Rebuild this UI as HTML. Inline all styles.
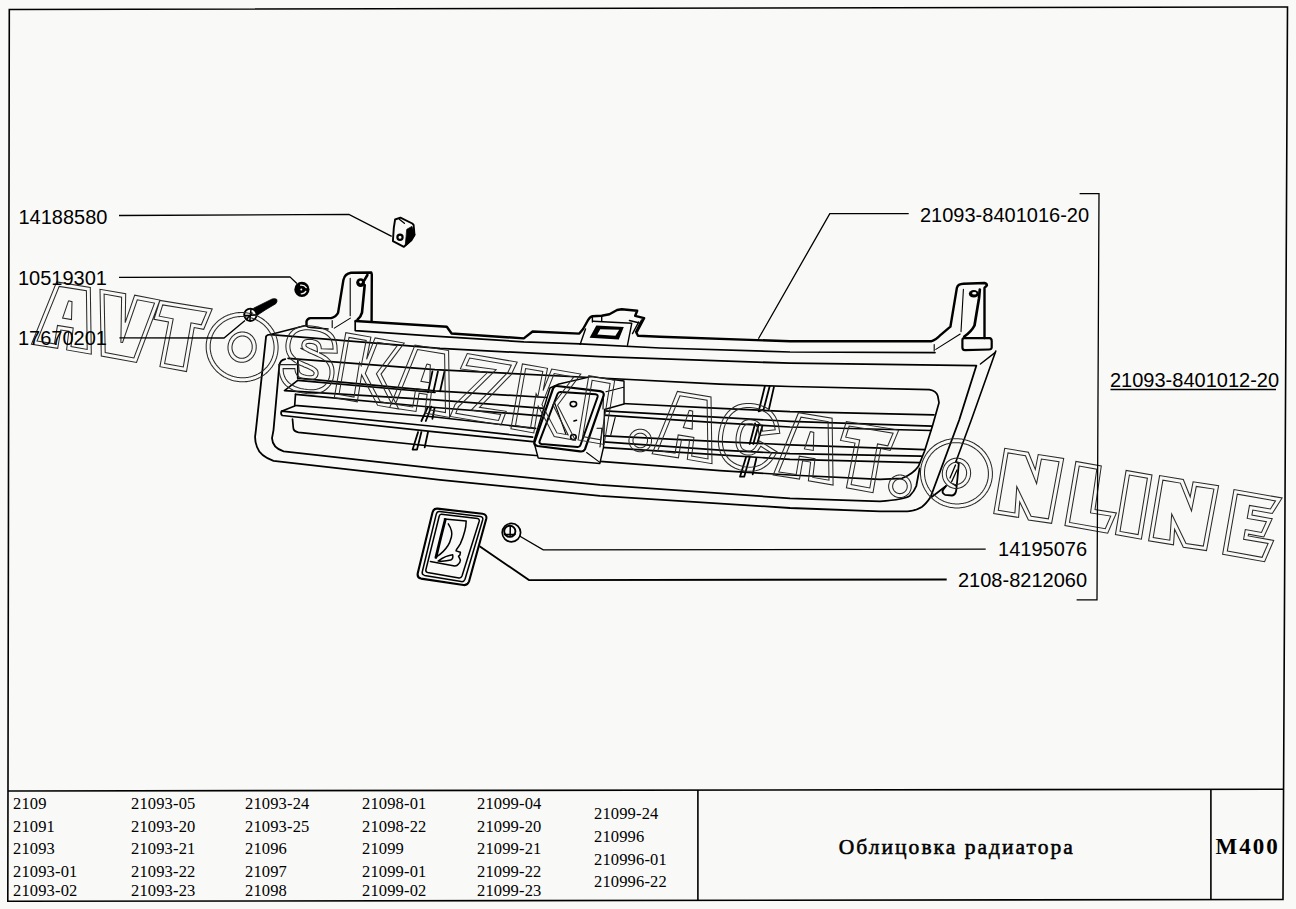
<!DOCTYPE html>
<html><head><meta charset="utf-8">
<style>
html,body{margin:0;padding:0;background:#f9f9f7;}
body{width:1296px;height:909px;overflow:hidden;position:relative;}
svg{position:absolute;left:0;top:0;}
.lab{font-family:"Liberation Sans",sans-serif;font-size:20px;fill:#000;}
.tb{font-family:"Liberation Serif",serif;font-size:16.5px;letter-spacing:0.15px;fill:#000;}
</style></head>
<body>
<svg width="1296" height="909" viewBox="0 0 1296 909">
<!-- frame -->
<g fill="none" stroke="#000" stroke-width="1.6">
<polygon points="9.3,9.5 1287.5,7 1283,899.5 7.8,901.3"/>
<line x1="8" y1="791" x2="1283.5" y2="789.3"/>
<line x1="697.9" y1="790" x2="697.9" y2="900"/>
<line x1="1210.9" y1="789.3" x2="1210.9" y2="899.3"/>
</g>
<!-- table text -->
<g class="tb">
<text x="13" y="809">2109</text>
<text x="13" y="831.5">21091</text>
<text x="13" y="854">21093</text>
<text x="13" y="877">21093-01</text>
<text x="13" y="896">21093-02</text>
<text x="131" y="809">21093-05</text>
<text x="131" y="831.5">21093-20</text>
<text x="131" y="854">21093-21</text>
<text x="131" y="877">21093-22</text>
<text x="131" y="896">21093-23</text>
<text x="245" y="809">21093-24</text>
<text x="245" y="831.5">21093-25</text>
<text x="245" y="854">21096</text>
<text x="245" y="877">21097</text>
<text x="245" y="896">21098</text>
<text x="362" y="809">21098-01</text>
<text x="362" y="831.5">21098-22</text>
<text x="362" y="854">21099</text>
<text x="362" y="877">21099-01</text>
<text x="362" y="896">21099-02</text>
<text x="477" y="809">21099-04</text>
<text x="477" y="831.5">21099-20</text>
<text x="477" y="854">21099-21</text>
<text x="477" y="877">21099-22</text>
<text x="477" y="896">21099-23</text>
<text x="594" y="819.3">21099-24</text>
<text x="594" y="842.1">210996</text>
<text x="594" y="864.7">210996-01</text>
<text x="594" y="886.9">210996-22</text>
</g>
<text x="838.8" y="854.3" style="font-family:'Liberation Serif',serif;font-size:21.5px;letter-spacing:2.03px;stroke:#000;stroke-width:0.55px">Облицовка радиатора</text>
<text x="1215.5" y="854" style="font-family:'Liberation Serif',serif;font-size:23px;font-weight:bold;letter-spacing:2.0px">M400</text>


<!-- GRILLE -->
<g id="grille" fill="none" stroke="#000" stroke-width="1.7" stroke-linejoin="round" stroke-linecap="round">
<!-- dividers -->
<g stroke-width="1.8">
<path d="M432.4,371.5 L428,392.4 M437.9,371.5 L433.5,391.3 M444.5,371.5 L440.1,391.3"/>
<path d="M428,406.7 L421.4,421 M431.3,406.7 L425.8,421 M434.6,407.8 L432.4,418.8"/>
<path d="M418.1,432 L412.6,449.6 M421.4,432 L417,449.6 M428,432 L424.7,447.4 M412.6,449.6 L417,449.6"/>
<path d="M764.8,386.5 L758.7,411.3 M769.6,386.5 L763.6,409.5 M773.9,387.1 L769,408.9 M758.7,411.3 L763.6,409.5"/>
<path d="M755.1,423.4 L749.7,444 M758.7,424.6 L753.3,444 M762.4,425.8 L757.5,442.8"/>
<path d="M746,457.3 L740,476.7 M749.7,457.3 L744.2,476.7 M756.3,458.5 L752.7,474.3 M740,476.7 L744.2,476.7"/>
</g>
<!-- slats -->
<path d="M288.1,358.4 L435,369.6 L600,378 L720,384.1 L790,386.5 L929.4,389.7 Q936.5,391 937.8,396 L939,402.7 L932.6,425.4 L924.5,451.3 L918.5,466.2 Q913,474 902,478.3 L880,479.4 L790,475 L720,470.6 L600,461.4 L535.6,455.5 L435,446.5 L298.4,432.3 Q293.5,431.5 293.3,427.9 L292.5,419.1"/>
<path d="M297.9,360.6 L297.7,378.2 L435,390.8 L547,397.5 M622,403.5 L720,408.3 L790,411.6 L934,414.8"/>
<path d="M297.7,380.4 L284.5,390.6 L435,399.8 L544,408.4 M604,410.8 L720,417.4 L790,421.3 L932,426.2"/>
<path d="M297.7,380.4 L435,392.5"/>
<path d="M295.5,394.3 L435,407.5 L541,415.8 M604,415.2 L720,422.8 L790,427 L931,430.5"/>
<path d="M295.5,394.3 L294.7,405.3 L435,417 L535.6,428.4"/>
<path d="M294.7,406 L281.5,411.2 Q280.3,414 282.3,415.5 L435,431.8 L532.6,441.6 M281.5,411.2 L435,426.5 L532.6,437.2 M600,435.7 L720,441.6 L790,444.8 L924.5,449.7 M600,441.6 L720,450.1 L790,453.7 L921.3,456.2"/>
<path d="M601.5,447.4 L720,454.9 L790,459.4 L919.6,462.6"/>
<!-- badge mount -->
<path fill="#f9f9f7" stroke-width="1.4" d="M550,388 L558,384.3 L591,376.6 L624,381 L624,404 L604.5,409.5 L603.5,447.4 L599.8,463.5 L538.2,458 L533.8,441.5 Z"/>
<path stroke-width="1.1" d="M605.9,391.7 L623.5,387.3 M603.5,392 L603,409"/>
<path stroke-width="2.2" d="M556.9,386 L600,391.2 Q604.5,392 603.7,395.3 L585,449.2 Q583.5,452 580,451.4 L537.5,446 Q533.8,445 534.4,442.6 L553,388.7 Q554.2,385.8 556.9,386 Z"/>
<path stroke-width="2" d="M560.5,392 L595.5,394.2 Q598.2,394.6 597.6,397 L580.5,445 Q579.8,447.2 577.5,447 L541.5,443.9 Q539,443.5 539.5,441.3 L557.5,394 Q558.3,391.9 560.5,392 Z"/>
<path stroke-width="1.1" d="M554.7,403 L565.7,433.8 M586.6,452.5 L599.8,462.4 M597,428.3 L602,428.3 L600,447 M615.2,417.3 L610.8,434.9"/>
<ellipse cx="573.4" cy="404.1" rx="3.2" ry="2.6" stroke-width="1.6"/>
<ellipse cx="573.4" cy="437.1" rx="2.8" ry="2.6" stroke-width="1.6"/>
<path stroke-width="1.6" d="M574,421 L576.5,420.3"/>
<!-- frame -->
<path stroke-width="1.8" d="M270.5,334.6 L440,348.4 L600,356.7 L790,363.2 L976.4,365.6 L959.2,420 L930.6,497 Q926,504 921.8,506.9 Q915,511 907.5,511.3 L880,511.3 L790,508 L600,495.8 L440,479.9 L273.5,460.9 Q260,456 257,447 Q255,442 255.1,436.7 L255.9,430.1 L266.1,336.2 Q267.5,334.4 270.5,334.6"/>
<path stroke-width="1.8" d="M285.2,359.1 Q280,360 279.3,365.7 L273.5,430.1 L272,438.1 Q272.5,448 283.7,451.3 L440,468.9 L600,484.8 L790,498.3 L880,501.4 Q905,499.5 909.7,495.9 Q914.5,491 916.3,486 L919.6,468.4"/>
<path stroke-width="1.6" d="M995.8,351 L971.3,420 L955.9,461.8 M946,486 L931.7,497"/>
<path stroke-width="1.4" d="M980.4,364 L995,352.6"/>
<!-- flange left -->
<path stroke-width="1.5" d="M270.5,334.6 L305.7,325.4"/>
<!-- top rail -->
<path stroke-width="2.4" d="M355.5,321 L446.8,326.7 L451.6,333.5 L523.8,338.4 L532.6,331.5 L579.3,333.6 L583.1,329 L587.8,320.5 Q590,316.5 592.4,316.2 L601.7,315.8 L609.4,314.3 L617.1,310 L621.7,309.3 L637.2,310.8 L635.2,315.8 L644.1,318.1 L636.4,332.8 L638,335.8 L660,336.7 L790,341.3 L931,341.3 Q936,340 940.7,334.8 L950.4,326.7 L956.9,287.8 Q958,284 963.4,283.8 L984.5,283 Q987,283.5 986.9,285.4 L984.5,287.8 L984.5,338.1"/>
<path stroke-width="1.7" d="M355.2,321.5 L355.2,330.6 L430,335.9 L523.8,341.8 L580,343.8 L660,348 L790,352 L935,352.6"/>
<path stroke-width="1.4" d="M585.5,329 L580.1,344.4 M593.2,321.2 L631.8,323.2 L627.5,345.2 M592.4,317.4 L592.4,322 M601.7,316 L601.7,321.6 M629.4,320.5 L638.7,322.8 M638.7,322 L632.5,333.6 M641.5,320 L635.5,332"/>
<path fill="#000" stroke="none" fill-rule="evenodd" d="M596.3,325.4 L623.8,327 L618.8,339.4 L589.6,337.8 Z M600.3,329.2 L619.2,329.8 L615.4,335.7 L597.3,334.5 Z"/>
<!-- left bracket -->
<path stroke-width="2.4" d="M306.5,325.8 L306.5,321.4 Q307.3,318.3 310.5,318.1 L331.2,318.1 Q336.2,316.6 338.1,312.7 L343.4,280 Q344.8,273.8 351,272.8 L371.3,272.5 L371.8,274.5 L371.6,321.4"/>
<path stroke-width="1.1" d="M350.2,278.2 L350.2,315.8 M334.3,328.1 L350.4,318.1 M332.2,320.5 L332.2,327.5"/>
<path stroke-width="2.6" d="M367.4,275 L364.3,280.4 M364.7,285 L362,312.7 Q360.8,317 357.6,319.6"/>
<path stroke-width="1.5" d="M306.5,325.8 Q307.5,327.3 311,327.4 L328.1,328.9"/>
<circle cx="360.6" cy="282.6" r="4.4" fill="#000" stroke="none"/>
<circle cx="360.6" cy="282.1" r="1.4" fill="#f9f9f7" stroke="none"/>
<!-- right bracket -->
<ellipse cx="973.8" cy="293.8" rx="5" ry="3.7" fill="#000" stroke="none"/>
<ellipse cx="974.3" cy="293.2" rx="2.2" ry="1.2" fill="#f9f9f7" stroke="none"/>
<path stroke-width="2.7" d="M979.8,289.5 L979,298.4 L974.5,325.5 Q971.5,331.5 964.3,336.5"/>
<path stroke-width="1.1" d="M963.4,289.4 L961,331.6 M935.8,349.4 L960.2,334 M934.2,344.5 L934.2,351"/>
<path stroke-width="2.2" d="M964,338.1 L989.5,338.1 Q991.7,338.3 991.7,341 L991.7,347.5 Q991.5,349.4 989,349.5 L965,350.2 Q962.4,350 962.4,347.5 L962.4,340 Q962.5,338.2 964,338.1 Z"/>
<!-- clip bottom right -->
<path stroke-width="1.8" d="M955.9,461.8 L958.8,463.5 L957.5,478 L956.3,490 Q955.5,495 952,495.5 L945,494.8 Q941.5,493 943,490 L946,486"/>
<path stroke-width="1.3" d="M955.5,465 L950,478 M957,470 L951.5,482 M953,484 L956,486"/>
</g>


<!-- PARTS -->
<g id="parts" fill="none" stroke="#000" stroke-linejoin="round" stroke-linecap="round">
<!-- clip 14188580 -->
<path stroke-width="1.9" fill="#f9f9f7" d="M395.1,219.5 L400.4,217.7 L412.3,223.5 L413.6,224.8 L414.5,234.9 L411.4,240.2 L403.9,246.8 L392.9,241.1 L393.8,227.9 Z"/>
<path fill="#000" stroke-width="0.8" d="M407,229.2 L411.9,226.4 L415,234.9 L409.7,242 L405.2,246 L406.1,236.7 Z"/>
<path stroke-width="1.3" d="M399.3,219.3 L404.4,223.3"/>
<circle cx="400" cy="237.2" r="2.6" stroke-width="2.2"/>
<!-- nut 10519301 -->
<circle cx="301.9" cy="289.4" r="7.6" fill="#000" stroke="none"/>
<path stroke="#f9f9f7" stroke-width="1.3" d="M300.6,285.2 Q304.5,284.8 306.2,287.6 M301.2,293.8 Q304.8,293.8 305.8,291.3"/>
<circle cx="301.3" cy="289.5" r="1" fill="#f9f9f7" stroke="none"/>
<!-- screw 17670201 -->
<path fill="#000" stroke="#000" stroke-width="0.8" d="M253.8,308.1 L272.3,298.9 Q275.5,298.2 276.8,299.4 Q277.6,301.5 275.8,303.7 L266,309.5 L257.3,315.2 Z"/>
<circle cx="250.4" cy="314.8" r="6.2" stroke-width="1.9" fill="#f9f9f7"/>
<path stroke-width="1.5" d="M251,309 L249.9,320.4 M244.6,315.6 L256,315 M246.5,319.6 L252,313"/>
<!-- emblem 2108-8212060 -->
<path stroke-width="2.1" d="M437.5,508.6 L482.5,513.8 Q487.3,514.6 486.2,519 L469,581.5 Q467.5,585.6 463.5,585 L421,578.6 Q416.8,577.5 417.8,573 L432.5,512.5 Q433.6,508.3 437.5,508.6 Z"/>
<path stroke-width="1.5" d="M439.5,511.6 L480.5,516.4 Q483.4,517 482.7,519.8 L465,579.3 Q464,582 461.3,581.6 L424.5,575.4 Q421.6,574.6 422.3,571.8 L436.2,514.4 Q437,511.4 439.5,511.6 Z"/>
<path stroke-width="1.5" d="M441.5,514.2 L477.5,518.6 Q479.8,519.1 479.2,521.3 L462,576 Q461.2,578.2 459,577.9 L427.5,572.4 Q425.4,571.8 425.9,569.6 L439.2,516.2 Q439.8,514 441.5,514.2 Z"/>
<path stroke-width="1.5" d="M444.4,518.9 L466.2,520.9 Q466,527 464.8,531 Q463,538 460.4,543.6 Q458.5,547 456.5,549.4 L456,550.9 L460.4,552.3 L459.9,555.2 L458.5,556.2 L460.4,560.1 Q460,563 458.5,564 Q457,566 454.6,565.9 L430.4,561.5"/>
<path stroke-width="2.8" d="M445.3,519.5 Q441,536 435.9,557.5"/>
<path stroke-width="1.5" d="M448.3,523.8 Q453,531 451.4,537 Q449.8,543 448,545.5 Q443.5,552.5 436.7,556.6"/>
<path stroke-width="1.5" d="M438.1,561 Q446,555.5 452.7,554.8 Q453.5,558.5 450.7,560.1 Q445,561.6 438.1,561 Z"/>
<!-- small nut 14195076 -->
<circle cx="511.4" cy="532.6" r="9.2" stroke-width="1.7" fill="#f9f9f7"/>
<circle cx="509.8" cy="531.3" r="5.6" stroke-width="1.9"/>
<path stroke-width="1.5" d="M504.5,534.5 L515,534.4 M510.3,525.8 L510.1,536.5"/>
</g>

<!-- WATERMARK -->
<path fill="none" stroke="#2a2a2a" stroke-width="1.05" stroke-linejoin="miter" d="M31.4,344.3 L57.7,348.3 L60.8,330.0 L68.8,331.3 L66.6,349.9 L91.3,354.2 L90.3,287.4 L56.7,281.9 Z M37.0,341.1 L54.4,343.8 L57.5,325.4 L73.2,328.0 L71.0,346.6 L87.2,349.4 L86.4,290.8 L59.2,286.4 Z M389.7,407.5 L416.0,411.5 L419.1,393.2 L427.1,394.5 L424.9,413.1 L449.6,417.4 L448.6,350.6 L415.0,345.1 Z M395.3,404.3 L412.7,406.9 L415.8,388.6 L431.5,391.1 L429.3,409.8 L445.5,412.6 L444.6,354.0 L417.5,349.5 Z M652.1,453.8 L678.4,457.8 L681.5,439.5 L689.5,440.8 L687.3,459.4 L712.0,463.7 L711.0,396.9 L677.4,391.4 Z M657.7,450.6 L675.1,453.2 L678.2,434.9 L693.9,437.4 L691.7,456.1 L708.0,458.9 L707.1,400.3 L679.9,395.8 Z M773.2,475.1 L799.5,479.1 L802.6,460.8 L810.6,462.1 L808.4,480.7 L833.1,485.0 L832.1,418.2 L798.5,412.7 Z M778.8,471.9 L796.2,474.5 L799.3,456.2 L815.0,458.8 L812.8,477.4 L829.0,480.2 L828.1,421.6 L801.0,417.2 Z M100.0,289.3 L101.3,356.0 L136.5,362.4 L159.9,300.1 L134.7,295.2 L125.2,322.7 L125.7,293.8 Z M104.1,294.1 L105.2,352.6 L133.9,357.9 L154.5,303.1 L137.3,299.8 L122.6,342.5 L120.9,342.2 L121.6,297.2 Z M159.9,300.4 L154.0,319.3 L168.5,322.0 L159.9,366.7 L186.5,371.6 L194.2,327.5 L203.7,329.3 L212.2,309.0 Z M162.7,304.9 L159.2,316.2 L173.2,318.8 L164.6,363.5 L183.3,366.9 L191.0,322.8 L201.3,324.8 L206.6,312.1 Z M846.4,421.5 L840.5,440.4 L855.0,443.1 L846.4,487.8 L873.0,492.7 L880.7,448.6 L890.2,450.4 L898.7,430.1 Z M849.2,426.0 L845.7,437.2 L859.7,439.9 L851.1,484.5 L869.8,488.0 L877.5,443.9 L887.8,445.8 L893.1,433.2 Z M277.7,352.5 L277.8,351.7 L277.9,350.9 L278.0,350.0 L278.0,349.2 L278.1,348.3 L278.1,347.5 L278.1,346.6 L278.0,345.8 L278.0,344.9 L277.9,344.1 L277.8,343.2 L277.7,342.4 L277.5,341.5 L277.3,340.7 L277.2,339.9 L277.0,339.0 L276.7,338.2 L276.5,337.4 L276.2,336.6 L275.9,335.8 L275.6,335.0 L275.3,334.2 L274.9,333.4 L274.6,332.6 L274.2,331.9 L273.8,331.1 L273.3,330.3 L272.9,329.6 L272.4,328.9 L271.9,328.2 L271.4,327.5 L270.9,326.8 L270.4,326.1 L269.8,325.4 L269.2,324.8 L268.7,324.1 L268.1,323.5 L267.4,322.9 L266.8,322.3 L266.2,321.7 L265.5,321.1 L264.8,320.6 L264.1,320.0 L263.4,319.5 L262.7,319.0 L262.0,318.5 L261.2,318.0 L260.5,317.6 L259.7,317.2 L258.9,316.7 L258.2,316.3 L257.4,316.0 L256.6,315.6 L255.7,315.3 L254.9,314.9 L254.1,314.6 L253.3,314.3 L252.4,314.1 L251.6,313.8 L250.7,313.6 L249.8,313.4 L249.0,313.2 L248.1,313.1 L247.2,312.9 L246.4,312.8 L245.5,312.7 L244.6,312.6 L243.7,312.5 L242.9,312.5 L242.0,312.5 L241.1,312.5 L240.2,312.5 L239.3,312.6 L238.4,312.6 L237.6,312.7 L236.7,312.8 L235.8,312.9 L235.0,313.1 L234.1,313.3 L233.2,313.4 L232.4,313.7 L231.5,313.9 L230.7,314.1 L229.9,314.4 L229.0,314.7 L228.2,315.0 L227.4,315.3 L226.6,315.7 L225.8,316.0 L225.0,316.4 L224.3,316.8 L223.5,317.2 L222.8,317.7 L222.0,318.1 L221.3,318.6 L220.6,319.1 L219.9,319.6 L219.2,320.1 L218.5,320.7 L217.9,321.2 L217.2,321.8 L216.6,322.4 L216.0,323.0 L215.4,323.6 L214.8,324.3 L214.2,324.9 L213.7,325.6 L213.1,326.2 L212.6,326.9 L212.1,327.6 L211.7,328.3 L211.2,329.0 L210.8,329.8 L210.3,330.5 L209.9,331.3 L209.5,332.0 L209.2,332.8 L208.8,333.6 L208.5,334.4 L208.2,335.1 L207.9,335.9 L207.7,336.8 L207.4,337.6 L207.2,338.4 L207.0,339.2 L206.8,340.0 L206.7,340.9 L206.5,341.7 L206.4,342.6 L206.3,343.4 L206.2,344.3 L206.2,345.1 L206.2,345.9 L206.2,346.8 L206.2,347.6 L206.2,348.5 L206.3,349.3 L206.3,350.2 L206.4,351.0 L206.6,351.9 L206.7,352.7 L206.9,353.6 L207.1,354.4 L207.3,355.2 L207.5,356.0 L207.7,356.9 L208.0,357.7 L208.3,358.5 L208.6,359.3 L208.9,360.1 L209.3,360.9 L209.7,361.6 L210.1,362.4 L210.5,363.2 L210.9,363.9 L211.3,364.7 L211.8,365.4 L212.3,366.1 L212.8,366.8 L213.3,367.5 L213.8,368.2 L214.4,368.9 L215.0,369.5 L215.6,370.1 L216.2,370.8 L216.8,371.4 L217.4,372.0 L218.1,372.6 L218.7,373.1 L219.4,373.7 L220.1,374.2 L220.8,374.8 L221.5,375.3 L222.2,375.8 L223.0,376.2 L223.7,376.7 L224.5,377.1 L225.3,377.5 L226.1,377.9 L226.9,378.3 L227.7,378.7 L228.5,379.0 L229.3,379.3 L230.1,379.6 L231.0,379.9 L231.8,380.2 L232.7,380.4 L233.5,380.7 L234.4,380.9 L235.2,381.0 L236.1,381.2 L237.0,381.3 L237.8,381.5 L238.7,381.6 L239.6,381.7 L240.5,381.7 L241.4,381.8 L242.3,381.8 L243.1,381.8 L244.0,381.7 L244.9,381.7 L245.8,381.6 L246.7,381.6 L247.5,381.4 L248.4,381.3 L249.3,381.2 L250.1,381.0 L251.0,380.8 L251.8,380.6 L252.7,380.4 L253.5,380.1 L254.4,379.9 L255.2,379.6 L256.0,379.3 L256.8,378.9 L257.6,378.6 L258.4,378.2 L259.2,377.8 L260.0,377.4 L260.7,377.0 L261.5,376.6 L262.2,376.1 L262.9,375.6 L263.6,375.2 L264.3,374.6 L265.0,374.1 L265.7,373.6 L266.4,373.0 L267.0,372.5 L267.6,371.9 L268.2,371.3 L268.8,370.6 L269.4,370.0 L270.0,369.4 L270.5,368.7 L271.1,368.0 L271.6,367.4 L272.1,366.7 L272.6,365.9 L273.0,365.2 L273.5,364.5 L273.9,363.8 L274.3,363.0 L274.7,362.2 L275.0,361.5 L275.4,360.7 L275.7,359.9 L276.0,359.1 L276.3,358.3 L276.6,357.5 L276.8,356.7 L277.0,355.9 L277.2,355.0 L277.4,354.2 L277.6,353.4 Z M252.0,349.2 L251.9,349.4 L251.9,349.7 L251.8,350.0 L251.7,350.2 L251.7,350.5 L251.6,350.7 L251.5,351.0 L251.4,351.3 L251.3,351.5 L251.2,351.8 L251.1,352.0 L250.9,352.3 L250.8,352.5 L250.7,352.7 L250.6,353.0 L250.4,353.2 L250.3,353.4 L250.1,353.7 L250.0,353.9 L249.8,354.1 L249.6,354.3 L249.5,354.5 L249.3,354.7 L249.1,354.9 L248.9,355.1 L248.8,355.3 L248.6,355.5 L248.4,355.7 L248.2,355.8 L248.0,356.0 L247.8,356.2 L247.6,356.3 L247.3,356.5 L247.1,356.6 L246.9,356.8 L246.7,356.9 L246.5,357.0 L246.2,357.2 L246.0,357.3 L245.8,357.4 L245.6,357.5 L245.3,357.6 L245.1,357.7 L244.8,357.8 L244.6,357.9 L244.4,357.9 L244.1,358.0 L243.9,358.1 L243.6,358.1 L243.4,358.2 L243.1,358.2 L242.9,358.2 L242.6,358.3 L242.4,358.3 L242.1,358.3 L241.9,358.3 L241.6,358.3 L241.4,358.3 L241.1,358.3 L240.9,358.3 L240.7,358.2 L240.4,358.2 L240.2,358.2 L239.9,358.1 L239.7,358.1 L239.4,358.0 L239.2,357.9 L239.0,357.9 L238.7,357.8 L238.5,357.7 L238.3,357.6 L238.0,357.5 L237.8,357.4 L237.6,357.3 L237.4,357.2 L237.1,357.1 L236.9,356.9 L236.7,356.8 L236.5,356.7 L236.3,356.5 L236.1,356.4 L235.9,356.2 L235.7,356.0 L235.5,355.9 L235.3,355.7 L235.1,355.5 L235.0,355.3 L234.8,355.1 L234.6,354.9 L234.5,354.7 L234.3,354.5 L234.1,354.3 L234.0,354.1 L233.8,353.9 L233.7,353.7 L233.6,353.5 L233.4,353.2 L233.3,353.0 L233.2,352.8 L233.1,352.5 L233.0,352.3 L232.9,352.0 L232.8,351.8 L232.7,351.6 L232.6,351.3 L232.5,351.0 L232.4,350.8 L232.4,350.5 L232.3,350.3 L232.2,350.0 L232.2,349.7 L232.1,349.5 L232.1,349.2 L232.1,348.9 L232.0,348.7 L232.0,348.4 L232.0,348.1 L232.0,347.8 L232.0,347.6 L232.0,347.3 L232.0,347.0 L232.0,346.7 L232.0,346.5 L232.0,346.2 L232.1,345.9 L232.1,345.6 L232.2,345.4 L232.2,345.1 L232.3,344.8 L232.3,344.6 L232.4,344.3 L232.5,344.0 L232.6,343.8 L232.6,343.5 L232.7,343.3 L232.8,343.0 L232.9,342.8 L233.0,342.5 L233.2,342.3 L233.3,342.0 L233.4,341.8 L233.5,341.5 L233.7,341.3 L233.8,341.1 L233.9,340.8 L234.1,340.6 L234.3,340.4 L234.4,340.2 L234.6,340.0 L234.7,339.7 L234.9,339.5 L235.1,339.3 L235.3,339.2 L235.5,339.0 L235.7,338.8 L235.8,338.6 L236.0,338.4 L236.2,338.3 L236.5,338.1 L236.7,337.9 L236.9,337.8 L237.1,337.6 L237.3,337.5 L237.5,337.4 L237.7,337.2 L238.0,337.1 L238.2,337.0 L238.4,336.9 L238.7,336.8 L238.9,336.7 L239.1,336.6 L239.4,336.5 L239.6,336.4 L239.9,336.3 L240.1,336.3 L240.3,336.2 L240.6,336.2 L240.8,336.1 L241.1,336.1 L241.3,336.0 L241.6,336.0 L241.8,336.0 L242.1,336.0 L242.3,336.0 L242.6,336.0 L242.8,336.0 L243.1,336.0 L243.3,336.0 L243.6,336.0 L243.8,336.1 L244.1,336.1 L244.3,336.1 L244.5,336.2 L244.8,336.3 L245.0,336.3 L245.3,336.4 L245.5,336.5 L245.7,336.6 L246.0,336.7 L246.2,336.8 L246.4,336.9 L246.6,337.0 L246.9,337.1 L247.1,337.2 L247.3,337.3 L247.5,337.5 L247.7,337.6 L247.9,337.8 L248.1,337.9 L248.3,338.1 L248.5,338.2 L248.7,338.4 L248.9,338.6 L249.1,338.8 L249.3,338.9 L249.4,339.1 L249.6,339.3 L249.8,339.5 L249.9,339.7 L250.1,339.9 L250.2,340.1 L250.4,340.4 L250.5,340.6 L250.7,340.8 L250.8,341.0 L250.9,341.3 L251.0,341.5 L251.1,341.7 L251.3,342.0 L251.4,342.2 L251.5,342.5 L251.6,342.7 L251.6,343.0 L251.7,343.2 L251.8,343.5 L251.9,343.7 L251.9,344.0 L252.0,344.3 L252.0,344.5 L252.1,344.8 L252.1,345.1 L252.2,345.3 L252.2,345.6 L252.2,345.9 L252.2,346.2 L252.2,346.4 L252.2,346.7 L252.2,347.0 L252.2,347.2 L252.2,347.5 L252.2,347.8 L252.2,348.1 L252.1,348.3 L252.1,348.6 L252.1,348.9 Z M273.7,352.0 L273.8,351.2 L273.9,350.5 L274.0,349.7 L274.0,349.0 L274.1,348.2 L274.1,347.5 L274.1,346.7 L274.0,346.0 L274.0,345.2 L273.9,344.5 L273.8,343.7 L273.7,343.0 L273.6,342.3 L273.4,341.5 L273.3,340.8 L273.1,340.1 L272.9,339.3 L272.7,338.6 L272.4,337.9 L272.2,337.2 L271.9,336.5 L271.6,335.8 L271.3,335.1 L271.0,334.4 L270.6,333.7 L270.3,333.0 L269.9,332.4 L269.5,331.7 L269.1,331.1 L268.6,330.4 L268.2,329.8 L267.7,329.2 L267.3,328.6 L266.8,328.0 L266.3,327.4 L265.7,326.9 L265.2,326.3 L264.7,325.7 L264.1,325.2 L263.5,324.7 L262.9,324.2 L262.3,323.7 L261.7,323.2 L261.1,322.8 L260.4,322.3 L259.8,321.9 L259.1,321.4 L258.5,321.0 L257.8,320.7 L257.1,320.3 L256.4,319.9 L255.7,319.6 L255.0,319.3 L254.2,319.0 L253.5,318.7 L252.8,318.4 L252.0,318.1 L251.3,317.9 L250.5,317.7 L249.7,317.5 L249.0,317.3 L248.2,317.1 L247.4,317.0 L246.6,316.9 L245.9,316.8 L245.1,316.7 L244.3,316.6 L243.5,316.5 L242.7,316.5 L241.9,316.5 L241.1,316.5 L240.4,316.5 L239.6,316.6 L238.8,316.6 L238.0,316.7 L237.2,316.8 L236.4,316.9 L235.7,317.0 L234.9,317.2 L234.1,317.3 L233.4,317.5 L232.6,317.7 L231.9,318.0 L231.1,318.2 L230.4,318.5 L229.7,318.7 L229.0,319.0 L228.2,319.3 L227.5,319.7 L226.8,320.0 L226.2,320.4 L225.5,320.7 L224.8,321.1 L224.2,321.5 L223.5,321.9 L222.9,322.4 L222.3,322.8 L221.7,323.3 L221.1,323.8 L220.5,324.3 L219.9,324.8 L219.4,325.3 L218.8,325.8 L218.3,326.4 L217.8,326.9 L217.3,327.5 L216.8,328.1 L216.3,328.7 L215.9,329.3 L215.4,329.9 L215.0,330.5 L214.6,331.1 L214.2,331.8 L213.8,332.4 L213.5,333.1 L213.1,333.8 L212.8,334.5 L212.5,335.1 L212.2,335.8 L212.0,336.5 L211.7,337.2 L211.5,337.9 L211.3,338.7 L211.1,339.4 L210.9,340.1 L210.7,340.8 L210.6,341.6 L210.5,342.3 L210.4,343.1 L210.3,343.8 L210.2,344.5 L210.2,345.3 L210.2,346.0 L210.2,346.8 L210.2,347.5 L210.2,348.3 L210.2,349.0 L210.3,349.8 L210.4,350.5 L210.5,351.3 L210.6,352.0 L210.8,352.7 L210.9,353.5 L211.1,354.2 L211.3,354.9 L211.6,355.7 L211.8,356.4 L212.0,357.1 L212.3,357.8 L212.6,358.5 L212.9,359.2 L213.3,359.9 L213.6,360.6 L214.0,361.2 L214.3,361.9 L214.7,362.5 L215.1,363.2 L215.6,363.8 L216.0,364.4 L216.5,365.1 L217.0,365.7 L217.5,366.3 L218.0,366.8 L218.5,367.4 L219.0,368.0 L219.6,368.5 L220.1,369.1 L220.7,369.6 L221.3,370.1 L221.9,370.6 L222.5,371.0 L223.1,371.5 L223.8,372.0 L224.4,372.4 L225.1,372.8 L225.8,373.2 L226.4,373.6 L227.1,374.0 L227.8,374.3 L228.5,374.7 L229.3,375.0 L230.0,375.3 L230.7,375.6 L231.5,375.9 L232.2,376.1 L233.0,376.4 L233.7,376.6 L234.5,376.8 L235.2,377.0 L236.0,377.1 L236.8,377.3 L237.6,377.4 L238.4,377.5 L239.1,377.6 L239.9,377.7 L240.7,377.7 L241.5,377.8 L242.3,377.8 L243.1,377.8 L243.9,377.8 L244.6,377.7 L245.4,377.7 L246.2,377.6 L247.0,377.5 L247.8,377.4 L248.5,377.2 L249.3,377.1 L250.1,376.9 L250.8,376.7 L251.6,376.5 L252.3,376.3 L253.1,376.1 L253.8,375.8 L254.5,375.5 L255.3,375.2 L256.0,374.9 L256.7,374.6 L257.4,374.3 L258.1,373.9 L258.7,373.5 L259.4,373.2 L260.1,372.7 L260.7,372.3 L261.3,371.9 L262.0,371.4 L262.6,371.0 L263.2,370.5 L263.7,370.0 L264.3,369.5 L264.9,369.0 L265.4,368.4 L265.9,367.9 L266.5,367.3 L267.0,366.8 L267.4,366.2 L267.9,365.6 L268.4,365.0 L268.8,364.4 L269.2,363.8 L269.6,363.1 L270.0,362.5 L270.4,361.8 L270.7,361.2 L271.1,360.5 L271.4,359.8 L271.7,359.1 L272.0,358.4 L272.3,357.7 L272.5,357.0 L272.7,356.3 L273.0,355.6 L273.1,354.9 L273.3,354.2 L273.5,353.4 L273.6,352.7 Z M255.9,349.9 L255.9,350.3 L255.8,350.6 L255.7,351.0 L255.6,351.3 L255.5,351.7 L255.4,352.0 L255.2,352.4 L255.1,352.7 L255.0,353.1 L254.8,353.4 L254.7,353.7 L254.5,354.0 L254.4,354.4 L254.2,354.7 L254.0,355.0 L253.8,355.3 L253.6,355.6 L253.4,355.9 L253.2,356.2 L253.0,356.5 L252.8,356.8 L252.5,357.1 L252.3,357.3 L252.1,357.6 L251.8,357.9 L251.6,358.1 L251.3,358.4 L251.1,358.6 L250.8,358.9 L250.5,359.1 L250.2,359.3 L249.9,359.5 L249.7,359.8 L249.4,360.0 L249.1,360.2 L248.7,360.3 L248.4,360.5 L248.1,360.7 L247.8,360.9 L247.5,361.0 L247.2,361.2 L246.8,361.3 L246.5,361.4 L246.2,361.6 L245.8,361.7 L245.5,361.8 L245.1,361.9 L244.8,361.9 L244.4,362.0 L244.1,362.1 L243.7,362.2 L243.4,362.2 L243.0,362.2 L242.7,362.3 L242.3,362.3 L242.0,362.3 L241.6,362.3 L241.2,362.3 L240.9,362.3 L240.5,362.2 L240.2,362.2 L239.8,362.2 L239.5,362.1 L239.1,362.0 L238.8,362.0 L238.4,361.9 L238.1,361.8 L237.7,361.7 L237.4,361.6 L237.1,361.4 L236.7,361.3 L236.4,361.2 L236.1,361.0 L235.8,360.9 L235.4,360.7 L235.1,360.5 L234.8,360.3 L234.5,360.1 L234.2,359.9 L233.9,359.7 L233.7,359.5 L233.4,359.3 L233.1,359.1 L232.8,358.8 L232.6,358.6 L232.3,358.3 L232.1,358.1 L231.8,357.8 L231.6,357.5 L231.4,357.3 L231.1,357.0 L230.9,356.7 L230.7,356.4 L230.5,356.1 L230.3,355.8 L230.1,355.5 L229.9,355.2 L229.8,354.9 L229.6,354.6 L229.5,354.2 L229.3,353.9 L229.2,353.6 L229.0,353.2 L228.9,352.9 L228.8,352.6 L228.7,352.2 L228.6,351.9 L228.5,351.5 L228.4,351.2 L228.3,350.8 L228.2,350.5 L228.2,350.1 L228.1,349.7 L228.1,349.4 L228.0,349.0 L228.0,348.7 L228.0,348.3 L228.0,347.9 L228.0,347.6 L228.0,347.2 L228.0,346.8 L228.0,346.5 L228.0,346.1 L228.1,345.8 L228.1,345.4 L228.2,345.0 L228.2,344.7 L228.3,344.3 L228.4,344.0 L228.4,343.6 L228.5,343.3 L228.6,342.9 L228.7,342.6 L228.9,342.2 L229.0,341.9 L229.1,341.5 L229.2,341.2 L229.4,340.9 L229.5,340.5 L229.7,340.2 L229.9,339.9 L230.0,339.6 L230.2,339.3 L230.4,339.0 L230.6,338.6 L230.8,338.3 L231.0,338.0 L231.2,337.8 L231.4,337.5 L231.7,337.2 L231.9,336.9 L232.1,336.6 L232.4,336.4 L232.6,336.1 L232.9,335.9 L233.2,335.6 L233.4,335.4 L233.7,335.2 L234.0,334.9 L234.3,334.7 L234.6,334.5 L234.9,334.3 L235.2,334.1 L235.5,333.9 L235.8,333.7 L236.1,333.6 L236.4,333.4 L236.7,333.3 L237.1,333.1 L237.4,333.0 L237.7,332.8 L238.1,332.7 L238.4,332.6 L238.7,332.5 L239.1,332.4 L239.4,332.3 L239.8,332.2 L240.1,332.2 L240.5,332.1 L240.8,332.1 L241.2,332.0 L241.5,332.0 L241.9,332.0 L242.3,332.0 L242.6,332.0 L243.0,332.0 L243.3,332.0 L243.7,332.0 L244.0,332.1 L244.4,332.1 L244.7,332.2 L245.1,332.2 L245.4,332.3 L245.8,332.4 L246.1,332.5 L246.5,332.6 L246.8,332.7 L247.2,332.8 L247.5,333.0 L247.8,333.1 L248.1,333.2 L248.5,333.4 L248.8,333.6 L249.1,333.7 L249.4,333.9 L249.7,334.1 L250.0,334.3 L250.3,334.5 L250.6,334.7 L250.8,335.0 L251.1,335.2 L251.4,335.4 L251.7,335.7 L251.9,335.9 L252.2,336.2 L252.4,336.4 L252.6,336.7 L252.9,337.0 L253.1,337.3 L253.3,337.6 L253.5,337.9 L253.7,338.1 L253.9,338.5 L254.1,338.8 L254.3,339.1 L254.4,339.4 L254.6,339.7 L254.8,340.0 L254.9,340.4 L255.1,340.7 L255.2,341.0 L255.3,341.4 L255.4,341.7 L255.5,342.0 L255.6,342.4 L255.7,342.7 L255.8,343.1 L255.9,343.4 L256.0,343.8 L256.0,344.2 L256.1,344.5 L256.1,344.9 L256.2,345.2 L256.2,345.6 L256.2,346.0 L256.2,346.3 L256.2,346.7 L256.2,347.1 L256.2,347.4 L256.2,347.8 L256.2,348.1 L256.1,348.5 L256.1,348.9 L256.1,349.2 L256.0,349.6 Z M992.0,478.7 L992.2,477.9 L992.3,477.0 L992.3,476.2 L992.4,475.3 L992.4,474.5 L992.4,473.6 L992.4,472.8 L992.4,471.9 L992.3,471.1 L992.2,470.2 L992.1,469.4 L992.0,468.5 L991.9,467.7 L991.7,466.9 L991.5,466.0 L991.3,465.2 L991.1,464.4 L990.8,463.6 L990.6,462.7 L990.3,461.9 L990.0,461.1 L989.6,460.3 L989.3,459.6 L988.9,458.8 L988.5,458.0 L988.1,457.3 L987.7,456.5 L987.2,455.8 L986.8,455.0 L986.3,454.3 L985.8,453.6 L985.3,452.9 L984.7,452.2 L984.2,451.6 L983.6,450.9 L983.0,450.3 L982.4,449.6 L981.8,449.0 L981.1,448.4 L980.5,447.9 L979.8,447.3 L979.2,446.7 L978.5,446.2 L977.8,445.7 L977.0,445.2 L976.3,444.7 L975.6,444.2 L974.8,443.8 L974.1,443.3 L973.3,442.9 L972.5,442.5 L971.7,442.1 L970.9,441.8 L970.1,441.4 L969.3,441.1 L968.4,440.8 L967.6,440.5 L966.8,440.2 L965.9,440.0 L965.1,439.8 L964.2,439.6 L963.3,439.4 L962.5,439.2 L961.6,439.1 L960.7,439.0 L959.8,438.9 L959.0,438.8 L958.1,438.7 L957.2,438.7 L956.3,438.7 L955.4,438.7 L954.5,438.7 L953.7,438.7 L952.8,438.8 L951.9,438.9 L951.0,439.0 L950.2,439.1 L949.3,439.3 L948.4,439.4 L947.6,439.6 L946.7,439.8 L945.9,440.0 L945.0,440.3 L944.2,440.6 L943.4,440.9 L942.6,441.2 L941.8,441.5 L941.0,441.8 L940.2,442.2 L939.4,442.6 L938.6,443.0 L937.8,443.4 L937.1,443.8 L936.4,444.3 L935.6,444.8 L934.9,445.3 L934.2,445.8 L933.5,446.3 L932.9,446.8 L932.2,447.4 L931.6,448.0 L930.9,448.6 L930.3,449.2 L929.7,449.8 L929.1,450.4 L928.6,451.1 L928.0,451.7 L927.5,452.4 L927.0,453.1 L926.5,453.8 L926.0,454.5 L925.5,455.2 L925.1,455.9 L924.7,456.7 L924.3,457.4 L923.9,458.2 L923.5,459.0 L923.2,459.7 L922.9,460.5 L922.6,461.3 L922.3,462.1 L922.0,462.9 L921.8,463.7 L921.5,464.6 L921.3,465.4 L921.2,466.2 L921.0,467.0 L920.9,467.9 L920.7,468.7 L920.7,469.6 L920.6,470.4 L920.5,471.3 L920.5,472.1 L920.5,473.0 L920.5,473.8 L920.5,474.7 L920.6,475.5 L920.7,476.4 L920.8,477.2 L920.9,478.0 L921.0,478.9 L921.2,479.7 L921.4,480.6 L921.6,481.4 L921.8,482.2 L922.1,483.0 L922.4,483.8 L922.6,484.6 L923.0,485.4 L923.3,486.2 L923.6,487.0 L924.0,487.8 L924.4,488.6 L924.8,489.3 L925.2,490.1 L925.7,490.8 L926.2,491.5 L926.6,492.3 L927.1,493.0 L927.7,493.7 L928.2,494.3 L928.7,495.0 L929.3,495.7 L929.9,496.3 L930.5,496.9 L931.1,497.6 L931.8,498.2 L932.4,498.7 L933.1,499.3 L933.8,499.9 L934.4,500.4 L935.1,500.9 L935.9,501.4 L936.6,501.9 L937.3,502.4 L938.1,502.8 L938.9,503.3 L939.6,503.7 L940.4,504.1 L941.2,504.5 L942.0,504.8 L942.8,505.2 L943.6,505.5 L944.5,505.8 L945.3,506.1 L946.2,506.3 L947.0,506.6 L947.9,506.8 L948.7,507.0 L949.6,507.2 L950.4,507.4 L951.3,507.5 L952.2,507.6 L953.1,507.7 L953.9,507.8 L954.8,507.9 L955.7,507.9 L956.6,507.9 L957.5,507.9 L958.4,507.9 L959.2,507.9 L960.1,507.8 L961.0,507.7 L961.9,507.6 L962.7,507.5 L963.6,507.3 L964.5,507.2 L965.3,507.0 L966.2,506.8 L967.0,506.5 L967.9,506.3 L968.7,506.0 L969.5,505.7 L970.3,505.4 L971.2,505.1 L972.0,504.8 L972.7,504.4 L973.5,504.0 L974.3,503.6 L975.1,503.2 L975.8,502.7 L976.5,502.3 L977.3,501.8 L978.0,501.3 L978.7,500.8 L979.4,500.3 L980.0,499.7 L980.7,499.2 L981.4,498.6 L982.0,498.0 L982.6,497.4 L983.2,496.8 L983.8,496.2 L984.3,495.5 L984.9,494.9 L985.4,494.2 L985.9,493.5 L986.4,492.8 L986.9,492.1 L987.4,491.4 L987.8,490.7 L988.2,489.9 L988.6,489.2 L989.0,488.4 L989.4,487.6 L989.7,486.9 L990.1,486.1 L990.4,485.3 L990.6,484.5 L990.9,483.7 L991.1,482.9 L991.4,482.0 L991.6,481.2 L991.7,480.4 L991.9,479.5 Z M966.3,475.3 L966.3,475.6 L966.2,475.9 L966.2,476.1 L966.1,476.4 L966.0,476.6 L965.9,476.9 L965.8,477.2 L965.7,477.4 L965.6,477.7 L965.5,477.9 L965.4,478.2 L965.3,478.4 L965.2,478.7 L965.0,478.9 L964.9,479.1 L964.8,479.4 L964.6,479.6 L964.5,479.8 L964.3,480.0 L964.1,480.3 L964.0,480.5 L963.8,480.7 L963.6,480.9 L963.5,481.1 L963.3,481.3 L963.1,481.5 L962.9,481.6 L962.7,481.8 L962.5,482.0 L962.3,482.2 L962.1,482.3 L961.9,482.5 L961.7,482.6 L961.5,482.8 L961.3,482.9 L961.0,483.1 L960.8,483.2 L960.6,483.3 L960.4,483.4 L960.1,483.6 L959.9,483.7 L959.7,483.8 L959.4,483.8 L959.2,483.9 L958.9,484.0 L958.7,484.1 L958.5,484.2 L958.2,484.2 L958.0,484.3 L957.7,484.3 L957.5,484.4 L957.2,484.4 L957.0,484.4 L956.7,484.4 L956.5,484.5 L956.2,484.5 L956.0,484.5 L955.7,484.5 L955.5,484.4 L955.2,484.4 L955.0,484.4 L954.8,484.4 L954.5,484.3 L954.3,484.3 L954.0,484.2 L953.8,484.2 L953.5,484.1 L953.3,484.0 L953.1,483.9 L952.8,483.9 L952.6,483.8 L952.4,483.7 L952.2,483.6 L951.9,483.5 L951.7,483.3 L951.5,483.2 L951.3,483.1 L951.1,483.0 L950.9,482.8 L950.6,482.7 L950.4,482.5 L950.2,482.4 L950.1,482.2 L949.9,482.0 L949.7,481.9 L949.5,481.7 L949.3,481.5 L949.1,481.3 L949.0,481.1 L948.8,480.9 L948.6,480.7 L948.5,480.5 L948.3,480.3 L948.2,480.1 L948.0,479.9 L947.9,479.6 L947.8,479.4 L947.7,479.2 L947.5,478.9 L947.4,478.7 L947.3,478.5 L947.2,478.2 L947.1,478.0 L947.0,477.7 L946.9,477.5 L946.8,477.2 L946.8,476.9 L946.7,476.7 L946.6,476.4 L946.6,476.2 L946.5,475.9 L946.5,475.6 L946.4,475.4 L946.4,475.1 L946.4,474.8 L946.3,474.5 L946.3,474.3 L946.3,474.0 L946.3,473.7 L946.3,473.5 L946.3,473.2 L946.3,472.9 L946.4,472.6 L946.4,472.4 L946.4,472.1 L946.5,471.8 L946.5,471.5 L946.6,471.3 L946.6,471.0 L946.7,470.7 L946.7,470.5 L946.8,470.2 L946.9,469.9 L947.0,469.7 L947.1,469.4 L947.2,469.2 L947.3,468.9 L947.4,468.7 L947.5,468.4 L947.6,468.2 L947.7,467.9 L947.9,467.7 L948.0,467.5 L948.1,467.2 L948.3,467.0 L948.4,466.8 L948.6,466.5 L948.8,466.3 L948.9,466.1 L949.1,465.9 L949.3,465.7 L949.4,465.5 L949.6,465.3 L949.8,465.1 L950.0,464.9 L950.2,464.8 L950.4,464.6 L950.6,464.4 L950.8,464.3 L951.0,464.1 L951.2,463.9 L951.4,463.8 L951.6,463.7 L951.9,463.5 L952.1,463.4 L952.3,463.3 L952.5,463.1 L952.8,463.0 L953.0,462.9 L953.2,462.8 L953.5,462.7 L953.7,462.7 L954.0,462.6 L954.2,462.5 L954.4,462.4 L954.7,462.4 L954.9,462.3 L955.2,462.3 L955.4,462.2 L955.7,462.2 L955.9,462.2 L956.2,462.1 L956.4,462.1 L956.7,462.1 L956.9,462.1 L957.2,462.1 L957.4,462.1 L957.7,462.2 L957.9,462.2 L958.2,462.2 L958.4,462.3 L958.6,462.3 L958.9,462.4 L959.1,462.4 L959.4,462.5 L959.6,462.6 L959.8,462.6 L960.1,462.7 L960.3,462.8 L960.5,462.9 L960.8,463.0 L961.0,463.1 L961.2,463.2 L961.4,463.4 L961.6,463.5 L961.8,463.6 L962.1,463.8 L962.3,463.9 L962.5,464.1 L962.7,464.2 L962.9,464.4 L963.0,464.6 L963.2,464.7 L963.4,464.9 L963.6,465.1 L963.8,465.3 L963.9,465.5 L964.1,465.7 L964.3,465.9 L964.4,466.1 L964.6,466.3 L964.7,466.5 L964.9,466.7 L965.0,467.0 L965.1,467.2 L965.3,467.4 L965.4,467.7 L965.5,467.9 L965.6,468.1 L965.7,468.4 L965.8,468.6 L965.9,468.9 L966.0,469.1 L966.1,469.4 L966.1,469.6 L966.2,469.9 L966.3,470.2 L966.3,470.4 L966.4,470.7 L966.4,471.0 L966.5,471.2 L966.5,471.5 L966.5,471.8 L966.6,472.0 L966.6,472.3 L966.6,472.6 L966.6,472.9 L966.6,473.1 L966.6,473.4 L966.6,473.7 L966.5,474.0 L966.5,474.2 L966.5,474.5 L966.4,474.8 L966.4,475.0 Z M988.1,478.1 L988.2,477.4 L988.3,476.6 L988.3,475.9 L988.4,475.1 L988.4,474.4 L988.4,473.6 L988.4,472.9 L988.4,472.1 L988.3,471.4 L988.2,470.7 L988.2,469.9 L988.1,469.2 L987.9,468.4 L987.8,467.7 L987.6,467.0 L987.4,466.2 L987.2,465.5 L987.0,464.8 L986.8,464.1 L986.5,463.3 L986.2,462.6 L985.9,461.9 L985.6,461.2 L985.3,460.6 L985.0,459.9 L984.6,459.2 L984.2,458.5 L983.8,457.9 L983.4,457.2 L983.0,456.6 L982.5,456.0 L982.1,455.4 L981.6,454.8 L981.1,454.2 L980.6,453.6 L980.1,453.0 L979.5,452.5 L979.0,451.9 L978.4,451.4 L977.9,450.9 L977.3,450.3 L976.7,449.9 L976.0,449.4 L975.4,448.9 L974.8,448.5 L974.1,448.0 L973.5,447.6 L972.8,447.2 L972.1,446.8 L971.4,446.4 L970.7,446.1 L970.0,445.7 L969.3,445.4 L968.6,445.1 L967.8,444.8 L967.1,444.6 L966.4,444.3 L965.6,444.1 L964.8,443.9 L964.1,443.7 L963.3,443.5 L962.5,443.3 L961.8,443.2 L961.0,443.0 L960.2,442.9 L959.4,442.8 L958.6,442.8 L957.9,442.7 L957.1,442.7 L956.3,442.7 L955.5,442.7 L954.7,442.7 L953.9,442.7 L953.1,442.8 L952.3,442.8 L951.6,442.9 L950.8,443.1 L950.0,443.2 L949.2,443.3 L948.5,443.5 L947.7,443.7 L947.0,443.9 L946.2,444.1 L945.5,444.4 L944.7,444.6 L944.0,444.9 L943.3,445.2 L942.6,445.5 L941.9,445.8 L941.2,446.2 L940.5,446.5 L939.8,446.9 L939.2,447.3 L938.5,447.7 L937.9,448.1 L937.2,448.5 L936.6,449.0 L936.0,449.5 L935.4,449.9 L934.8,450.4 L934.3,450.9 L933.7,451.5 L933.2,452.0 L932.6,452.5 L932.1,453.1 L931.6,453.7 L931.1,454.2 L930.7,454.8 L930.2,455.4 L929.8,456.1 L929.3,456.7 L928.9,457.3 L928.5,458.0 L928.2,458.6 L927.8,459.3 L927.5,459.9 L927.2,460.6 L926.9,461.3 L926.6,462.0 L926.3,462.7 L926.1,463.4 L925.8,464.1 L925.6,464.8 L925.4,465.5 L925.2,466.3 L925.1,467.0 L924.9,467.7 L924.8,468.5 L924.7,469.2 L924.6,470.0 L924.6,470.7 L924.5,471.4 L924.5,472.2 L924.5,472.9 L924.5,473.7 L924.5,474.4 L924.6,475.2 L924.7,475.9 L924.7,476.7 L924.9,477.4 L925.0,478.2 L925.1,478.9 L925.3,479.6 L925.5,480.4 L925.7,481.1 L925.9,481.8 L926.1,482.5 L926.4,483.2 L926.7,484.0 L927.0,484.7 L927.3,485.3 L927.6,486.0 L927.9,486.7 L928.3,487.4 L928.7,488.0 L929.1,488.7 L929.5,489.3 L929.9,490.0 L930.4,490.6 L930.8,491.2 L931.3,491.8 L931.8,492.4 L932.3,493.0 L932.8,493.6 L933.4,494.1 L933.9,494.7 L934.5,495.2 L935.1,495.7 L935.6,496.2 L936.2,496.7 L936.9,497.2 L937.5,497.7 L938.1,498.1 L938.8,498.6 L939.4,499.0 L940.1,499.4 L940.8,499.8 L941.5,500.1 L942.2,500.5 L942.9,500.8 L943.6,501.2 L944.3,501.5 L945.1,501.8 L945.8,502.0 L946.6,502.3 L947.3,502.5 L948.1,502.7 L948.8,502.9 L949.6,503.1 L950.4,503.3 L951.1,503.4 L951.9,503.6 L952.7,503.7 L953.5,503.8 L954.3,503.8 L955.1,503.9 L955.8,503.9 L956.6,503.9 L957.4,503.9 L958.2,503.9 L959.0,503.9 L959.8,503.8 L960.6,503.7 L961.3,503.6 L962.1,503.5 L962.9,503.4 L963.7,503.2 L964.4,503.1 L965.2,502.9 L965.9,502.7 L966.7,502.5 L967.4,502.2 L968.2,502.0 L968.9,501.7 L969.6,501.4 L970.3,501.1 L971.0,500.8 L971.7,500.4 L972.4,500.1 L973.1,499.7 L973.7,499.3 L974.4,498.9 L975.0,498.5 L975.7,498.1 L976.3,497.6 L976.9,497.1 L977.5,496.7 L978.1,496.2 L978.7,495.7 L979.2,495.1 L979.8,494.6 L980.3,494.1 L980.8,493.5 L981.3,492.9 L981.8,492.3 L982.3,491.8 L982.7,491.2 L983.1,490.5 L983.6,489.9 L984.0,489.3 L984.4,488.6 L984.7,488.0 L985.1,487.3 L985.4,486.6 L985.7,486.0 L986.1,485.3 L986.3,484.6 L986.6,483.9 L986.9,483.2 L987.1,482.5 L987.3,481.8 L987.5,481.0 L987.7,480.3 L987.8,479.6 L988.0,478.9 Z M970.3,476.1 L970.2,476.5 L970.1,476.8 L970.0,477.2 L969.9,477.5 L969.8,477.9 L969.7,478.2 L969.6,478.5 L969.5,478.9 L969.3,479.2 L969.2,479.6 L969.0,479.9 L968.9,480.2 L968.7,480.5 L968.5,480.8 L968.3,481.2 L968.2,481.5 L968.0,481.8 L967.8,482.1 L967.6,482.4 L967.3,482.7 L967.1,483.0 L966.9,483.2 L966.7,483.5 L966.4,483.8 L966.2,484.0 L965.9,484.3 L965.7,484.5 L965.4,484.8 L965.1,485.0 L964.9,485.3 L964.6,485.5 L964.3,485.7 L964.0,485.9 L963.7,486.1 L963.4,486.3 L963.1,486.5 L962.8,486.7 L962.5,486.9 L962.2,487.0 L961.8,487.2 L961.5,487.3 L961.2,487.5 L960.8,487.6 L960.5,487.7 L960.2,487.8 L959.8,487.9 L959.5,488.0 L959.1,488.1 L958.8,488.2 L958.4,488.3 L958.1,488.3 L957.7,488.4 L957.4,488.4 L957.0,488.4 L956.7,488.5 L956.3,488.5 L955.9,488.5 L955.6,488.5 L955.2,488.4 L954.9,488.4 L954.5,488.4 L954.2,488.3 L953.8,488.3 L953.5,488.2 L953.1,488.1 L952.8,488.0 L952.4,487.9 L952.1,487.8 L951.7,487.7 L951.4,487.6 L951.1,487.5 L950.8,487.3 L950.4,487.2 L950.1,487.0 L949.8,486.9 L949.5,486.7 L949.2,486.5 L948.9,486.3 L948.6,486.1 L948.3,485.9 L948.0,485.7 L947.7,485.5 L947.4,485.2 L947.2,485.0 L946.9,484.7 L946.7,484.5 L946.4,484.2 L946.2,484.0 L945.9,483.7 L945.7,483.4 L945.5,483.2 L945.3,482.9 L945.1,482.6 L944.8,482.3 L944.7,482.0 L944.5,481.7 L944.3,481.4 L944.1,481.0 L944.0,480.7 L943.8,480.4 L943.6,480.1 L943.5,479.7 L943.4,479.4 L943.2,479.1 L943.1,478.7 L943.0,478.4 L942.9,478.0 L942.8,477.7 L942.7,477.3 L942.7,477.0 L942.6,476.6 L942.5,476.3 L942.5,475.9 L942.4,475.5 L942.4,475.2 L942.4,474.8 L942.3,474.5 L942.3,474.1 L942.3,473.7 L942.3,473.4 L942.3,473.0 L942.4,472.6 L942.4,472.3 L942.4,471.9 L942.5,471.6 L942.5,471.2 L942.6,470.8 L942.6,470.5 L942.7,470.1 L942.8,469.8 L942.9,469.4 L943.0,469.1 L943.1,468.7 L943.2,468.4 L943.3,468.0 L943.5,467.7 L943.6,467.4 L943.7,467.0 L943.9,466.7 L944.0,466.4 L944.2,466.1 L944.4,465.7 L944.6,465.4 L944.7,465.1 L944.9,464.8 L945.1,464.5 L945.4,464.2 L945.6,463.9 L945.8,463.6 L946.0,463.4 L946.2,463.1 L946.5,462.8 L946.7,462.5 L947.0,462.3 L947.2,462.0 L947.5,461.8 L947.8,461.6 L948.1,461.3 L948.3,461.1 L948.6,460.9 L948.9,460.7 L949.2,460.5 L949.5,460.3 L949.8,460.1 L950.1,459.9 L950.4,459.7 L950.8,459.6 L951.1,459.4 L951.4,459.3 L951.7,459.1 L952.1,459.0 L952.4,458.9 L952.7,458.8 L953.1,458.7 L953.4,458.6 L953.8,458.5 L954.1,458.4 L954.5,458.3 L954.8,458.3 L955.2,458.2 L955.5,458.2 L955.9,458.2 L956.3,458.1 L956.6,458.1 L957.0,458.1 L957.3,458.1 L957.7,458.2 L958.0,458.2 L958.4,458.2 L958.7,458.3 L959.1,458.3 L959.4,458.4 L959.8,458.5 L960.1,458.6 L960.5,458.6 L960.8,458.8 L961.2,458.9 L961.5,459.0 L961.8,459.1 L962.2,459.3 L962.5,459.4 L962.8,459.6 L963.1,459.7 L963.4,459.9 L963.7,460.1 L964.0,460.3 L964.3,460.5 L964.6,460.7 L964.9,460.9 L965.2,461.1 L965.5,461.4 L965.7,461.6 L966.0,461.8 L966.3,462.1 L966.5,462.3 L966.7,462.6 L967.0,462.9 L967.2,463.2 L967.4,463.4 L967.6,463.7 L967.9,464.0 L968.1,464.3 L968.3,464.6 L968.4,464.9 L968.6,465.2 L968.8,465.5 L969.0,465.9 L969.1,466.2 L969.3,466.5 L969.4,466.9 L969.5,467.2 L969.7,467.5 L969.8,467.9 L969.9,468.2 L970.0,468.6 L970.1,468.9 L970.2,469.3 L970.3,469.6 L970.3,470.0 L970.4,470.3 L970.4,470.7 L970.5,471.0 L970.5,471.4 L970.5,471.8 L970.6,472.1 L970.6,472.5 L970.6,472.9 L970.6,473.2 L970.6,473.6 L970.6,473.9 L970.5,474.3 L970.5,474.7 L970.5,475.0 L970.4,475.4 L970.3,475.7 Z M319.1,352.7 L337.3,353.2 L336.9,345.6 L336.4,342.8 L335.7,340.2 L334.5,337.7 L333.1,335.4 L331.3,333.4 L329.3,331.7 L326.9,330.3 L324.3,329.0 L321.5,328.0 L318.4,327.1 L315.0,326.4 L311.4,325.9 L308.0,325.7 L304.8,325.8 L301.7,326.2 L298.8,327.0 L296.0,328.2 L293.6,329.7 L291.4,331.6 L289.5,333.9 L288.1,336.4 L287.0,339.2 L286.3,342.0 L286.1,343.3 L286.0,344.4 L285.9,345.6 L285.9,346.7 L286.0,347.8 L286.1,348.9 L286.2,349.9 L286.4,350.9 L286.7,351.9 L287.0,352.9 L287.4,353.8 L287.8,354.7 L288.3,355.6 L288.8,356.5 L289.4,357.3 L290.0,358.0 L290.7,358.8 L291.4,359.5 L292.1,360.1 L292.8,360.7 L293.5,361.3 L294.3,361.8 L295.1,362.4 L295.9,362.9 L296.8,363.4 L298.0,364.0 L299.2,364.7 L300.7,365.4 L302.3,366.1 L304.1,367.0 L306.2,367.8 L307.9,368.6 L309.4,369.3 L310.6,369.9 L311.5,370.3 L312.2,370.7 L312.6,371.0 L313.0,371.4 L313.3,371.7 L313.6,372.0 L313.8,372.2 L313.9,372.4 L314.0,372.6 L314.0,372.7 L314.1,372.8 L314.1,373.0 L314.1,373.2 L314.1,373.4 L313.7,374.5 L313.4,375.0 L312.8,375.3 L311.5,375.7 L309.4,375.7 L306.5,375.4 L305.1,375.1 L303.8,374.7 L302.7,374.3 L301.8,373.9 L301.1,373.5 L300.6,373.0 L300.2,372.6 L299.8,372.1 L299.5,371.5 L299.3,370.8 L299.1,369.9 L298.5,364.6 L278.7,364.6 L279.4,372.4 L280.0,375.3 L280.9,378.1 L282.2,380.7 L283.8,383.1 L285.8,385.3 L288.0,387.2 L290.5,388.8 L293.3,390.2 L296.4,391.4 L299.6,392.3 L303.1,393.0 L307.0,393.6 L310.6,393.8 L314.1,393.7 L317.4,393.2 L320.5,392.4 L323.4,391.2 L326.0,389.5 L328.3,387.5 L330.2,385.1 L331.8,382.4 L332.9,379.5 L333.6,376.4 L333.8,375.0 L334.0,373.6 L334.0,372.3 L334.0,371.0 L333.9,369.7 L333.7,368.4 L333.5,367.2 L333.1,366.0 L332.7,364.8 L332.2,363.7 L331.6,362.6 L330.9,361.5 L330.2,360.5 L329.3,359.5 L328.4,358.6 L327.4,357.7 L326.4,356.9 L325.2,356.0 L323.9,355.2 L322.4,354.4 L320.7,353.5 Z M317.5,352.0 L316.6,351.6 L314.3,350.6 L312.5,349.8 L310.9,349.1 L309.5,348.4 L308.5,347.9 L307.7,347.4 L307.2,347.1 L306.8,346.8 L306.5,346.6 L306.3,346.3 L306.1,346.1 L306.0,346.0 L305.9,345.8 L305.9,345.8 L305.9,345.7 L305.9,345.6 L305.9,345.5 L305.9,345.2 L305.9,345.1 L306.2,344.2 L306.4,343.9 L306.7,343.7 L307.6,343.4 L309.3,343.3 L311.8,343.6 L312.9,343.8 L313.9,344.1 L314.7,344.4 L315.3,344.8 L315.8,345.1 L316.1,345.4 L316.4,345.7 L316.6,346.1 L316.8,346.5 L317.0,347.1 L317.1,347.7 Z M300.4,348.2 L302.7,348.2 L302.6,348.1 L302.3,347.6 L302.1,347.2 L302.0,346.6 L301.9,346.1 L301.8,345.5 L301.9,344.9 L302.0,344.2 L302.6,342.3 L303.6,340.9 L305.0,340.0 L307.0,339.4 L309.5,339.3 L312.5,339.6 L313.9,339.9 L315.2,340.3 L316.4,340.8 L317.4,341.3 L318.3,341.9 L319.0,342.6 L319.6,343.3 L320.2,344.2 L320.6,345.1 L320.9,346.1 L321.1,347.1 L321.3,348.8 L333.1,349.1 L332.9,346.0 L332.5,343.7 L331.9,341.6 L331.0,339.6 L329.9,337.9 L328.5,336.3 L326.9,335.0 L325.0,333.8 L322.8,332.7 L320.2,331.8 L317.4,331.0 L314.3,330.4 L311.0,329.9 L308.0,329.7 L305.1,329.8 L302.5,330.2 L300.1,330.8 L297.9,331.7 L295.9,332.9 L294.3,334.4 L292.9,336.1 L291.7,338.1 L290.9,340.3 L290.3,342.8 L290.1,343.8 L290.0,344.8 L289.9,345.7 L289.9,346.7 L290.0,347.5 L290.0,348.4 L290.2,349.2 L290.3,350.0 L290.5,350.8 L290.8,351.5 L291.1,352.2 L291.4,352.9 L291.8,353.6 L292.2,354.2 L292.6,354.9 L293.1,355.4 L293.6,356.0 L294.1,356.6 L294.7,357.1 L295.3,357.6 L295.9,358.1 L296.6,358.5 L297.3,359.0 L298.0,359.5 L298.8,359.9 L299.8,360.5 L301.0,361.1 L302.4,361.8 L304.0,362.5 L305.7,363.3 L307.8,364.1 L309.6,364.9 L311.1,365.6 L312.5,366.3 L313.5,366.9 L314.4,367.4 L315.0,367.8 L315.6,368.3 L316.2,368.8 L316.7,369.4 L317.1,369.9 L317.4,370.4 L317.7,371.0 L317.9,371.6 L318.0,372.2 L318.1,372.9 L318.1,373.6 L318.0,374.3 L317.3,376.4 L316.1,377.9 L314.4,379.0 L312.2,379.6 L309.3,379.8 L305.8,379.4 L304.1,379.0 L302.5,378.6 L301.1,378.0 L299.9,377.4 L298.8,376.7 L297.8,376.0 L297.0,375.1 L296.4,374.1 L295.8,373.0 L295.4,371.8 L295.1,370.5 L294.9,368.6 L283.1,368.6 L283.3,371.8 L283.8,374.3 L284.6,376.6 L285.6,378.7 L287.0,380.6 L288.5,382.4 L290.4,383.9 L292.5,385.3 L294.9,386.5 L297.6,387.6 L300.6,388.4 L303.8,389.1 L307.4,389.6 L310.7,389.8 L313.8,389.7 L316.6,389.3 L319.2,388.6 L321.5,387.6 L323.6,386.3 L325.4,384.7 L326.9,382.9 L328.1,380.7 L329.1,378.3 L329.7,375.7 L329.9,374.5 L330.0,373.3 L330.0,372.2 L330.0,371.1 L329.9,370.1 L329.8,369.1 L329.6,368.1 L329.3,367.2 L329.0,366.3 L328.6,365.4 L328.1,364.6 L327.6,363.8 L327.1,363.0 L326.4,362.2 L325.7,361.5 L324.9,360.8 L324.0,360.1 L323.0,359.4 L321.9,358.6 L320.5,357.9 L318.9,357.1 L317.1,356.2 L315.0,355.2 L312.7,354.3 L310.8,353.4 L309.2,352.7 L307.8,352.0 L306.6,351.4 L305.6,350.8 L304.9,350.4 L304.6,350.2 Z M334.3,397.7 L357.3,401.8 L361.6,375.0 L377.7,405.4 L398.7,409.1 L381.0,374.1 L404.2,343.0 L375.1,337.9 L366.6,359.4 L370.9,337.1 L345.8,332.7 Z M339.0,394.5 L354.0,397.1 L359.5,362.6 L361.2,365.8 L366.2,340.4 L349.0,337.4 Z M365.3,373.5 L380.3,401.8 L391.6,403.7 L376.4,373.7 L397.1,345.8 L377.6,342.4 Z M467.2,353.6 L460.4,368.9 L487.5,372.5 L455.0,404.5 L450.2,416.4 L501.1,424.9 L506.2,411.3 L479.5,407.3 L511.3,374.5 L517.2,362.1 Z M469.6,358.1 L466.2,365.6 L496.1,369.6 L458.4,406.8 L455.8,413.3 L498.5,420.4 L500.7,414.5 L471.2,410.1 L508.0,372.2 L511.3,365.2 Z M510.9,428.8 L533.8,432.9 L538.2,406.1 L554.2,436.5 L575.3,440.2 L557.6,405.2 L580.8,374.1 L551.7,369.0 L543.1,390.6 L547.5,368.3 L522.4,363.9 Z M515.5,425.6 L530.5,428.3 L536.1,393.7 L537.8,397.0 L542.8,371.5 L525.6,368.5 Z M541.9,404.6 L556.9,432.9 L568.1,434.9 L552.9,404.8 L573.7,377.0 L554.2,373.5 Z M588.8,375.7 L578.1,439.9 L604.1,444.5 L614.7,380.3 Z M592.1,380.3 L582.7,436.6 L600.8,439.8 L610.1,383.5 Z M651.4,442.4 L651.4,442.1 L651.5,441.7 L651.5,441.3 L651.5,441.0 L651.5,440.6 L651.5,440.2 L651.5,439.9 L651.5,439.5 L651.5,439.1 L651.4,438.8 L651.4,438.4 L651.3,438.0 L651.2,437.7 L651.1,437.3 L651.0,437.0 L650.9,436.6 L650.7,436.3 L650.6,435.9 L650.4,435.6 L650.3,435.3 L650.1,434.9 L649.9,434.6 L649.7,434.3 L649.5,434.0 L649.3,433.7 L649.1,433.4 L648.8,433.1 L648.6,432.9 L648.3,432.6 L648.1,432.3 L647.8,432.1 L647.5,431.8 L647.2,431.6 L646.9,431.4 L646.6,431.2 L646.3,431.0 L646.0,430.8 L645.7,430.6 L645.4,430.4 L645.0,430.2 L644.7,430.1 L644.3,430.0 L644.0,429.8 L643.6,429.7 L643.3,429.6 L642.9,429.5 L642.6,429.4 L642.2,429.4 L641.8,429.3 L641.5,429.3 L641.1,429.2 L640.7,429.2 L640.4,429.2 L640.0,429.2 L639.6,429.2 L639.3,429.2 L638.9,429.3 L638.5,429.3 L638.2,429.4 L637.8,429.5 L637.4,429.5 L637.1,429.6 L636.7,429.7 L636.4,429.9 L636.0,430.0 L635.7,430.1 L635.4,430.3 L635.0,430.5 L634.7,430.6 L634.4,430.8 L634.1,431.0 L633.8,431.2 L633.5,431.4 L633.2,431.7 L632.9,431.9 L632.6,432.2 L632.3,432.4 L632.1,432.7 L631.8,432.9 L631.6,433.2 L631.4,433.5 L631.1,433.8 L630.9,434.1 L630.7,434.4 L630.5,434.7 L630.3,435.1 L630.2,435.4 L630.0,435.7 L629.9,436.0 L629.7,436.4 L629.6,436.7 L629.5,437.1 L629.4,437.4 L629.3,437.8 L629.2,438.2 L629.1,438.5 L629.1,438.9 L629.0,439.3 L629.0,439.6 L629.0,440.0 L628.9,440.4 L628.9,440.7 L629.0,441.1 L629.0,441.5 L629.0,441.8 L629.1,442.2 L629.1,442.6 L629.2,442.9 L629.3,443.3 L629.4,443.6 L629.5,444.0 L629.6,444.4 L629.8,444.7 L629.9,445.0 L630.1,445.4 L630.2,445.7 L630.4,446.0 L630.6,446.3 L630.8,446.7 L631.0,447.0 L631.2,447.3 L631.4,447.6 L631.7,447.8 L631.9,448.1 L632.2,448.4 L632.4,448.6 L632.7,448.9 L633.0,449.1 L633.3,449.4 L633.6,449.6 L633.9,449.8 L634.2,450.0 L634.5,450.2 L634.8,450.4 L635.1,450.6 L635.5,450.7 L635.8,450.9 L636.2,451.0 L636.5,451.1 L636.8,451.3 L637.2,451.4 L637.6,451.5 L637.9,451.5 L638.3,451.6 L638.7,451.7 L639.0,451.7 L639.4,451.8 L639.8,451.8 L640.1,451.8 L640.5,451.8 L640.9,451.8 L641.2,451.7 L641.6,451.7 L642.0,451.7 L642.3,451.6 L642.7,451.5 L643.1,451.4 L643.4,451.3 L643.8,451.2 L644.1,451.1 L644.5,451.0 L644.8,450.8 L645.1,450.7 L645.5,450.5 L645.8,450.3 L646.1,450.1 L646.4,450.0 L646.7,449.7 L647.0,449.5 L647.3,449.3 L647.6,449.1 L647.9,448.8 L648.1,448.6 L648.4,448.3 L648.7,448.0 L648.9,447.7 L649.1,447.5 L649.4,447.2 L649.6,446.9 L649.8,446.6 L650.0,446.2 L650.2,445.9 L650.3,445.6 L650.5,445.3 L650.6,444.9 L650.8,444.6 L650.9,444.2 L651.0,443.9 L651.1,443.5 L651.2,443.2 L651.3,442.8 Z M647.4,441.8 L647.5,441.5 L647.5,441.3 L647.5,441.0 L647.5,440.8 L647.5,440.6 L647.5,440.3 L647.5,440.1 L647.5,439.9 L647.5,439.6 L647.5,439.4 L647.4,439.1 L647.4,438.9 L647.3,438.7 L647.3,438.4 L647.2,438.2 L647.1,438.0 L647.0,437.8 L646.9,437.5 L646.8,437.3 L646.7,437.1 L646.6,436.9 L646.5,436.7 L646.4,436.5 L646.2,436.3 L646.1,436.1 L645.9,435.9 L645.8,435.7 L645.6,435.6 L645.5,435.4 L645.3,435.2 L645.1,435.1 L644.9,434.9 L644.8,434.7 L644.6,434.6 L644.4,434.5 L644.2,434.3 L644.0,434.2 L643.8,434.1 L643.5,434.0 L643.3,433.9 L643.1,433.8 L642.9,433.7 L642.7,433.6 L642.4,433.5 L642.2,433.5 L642.0,433.4 L641.7,433.3 L641.5,433.3 L641.3,433.3 L641.0,433.2 L640.8,433.2 L640.6,433.2 L640.3,433.2 L640.1,433.2 L639.8,433.2 L639.6,433.2 L639.4,433.2 L639.1,433.3 L638.9,433.3 L638.7,433.4 L638.4,433.4 L638.2,433.5 L638.0,433.5 L637.8,433.6 L637.5,433.7 L637.3,433.8 L637.1,433.9 L636.9,434.0 L636.7,434.1 L636.5,434.2 L636.3,434.4 L636.1,434.5 L635.9,434.6 L635.7,434.8 L635.5,434.9 L635.3,435.1 L635.1,435.3 L635.0,435.4 L634.8,435.6 L634.7,435.8 L634.5,436.0 L634.4,436.2 L634.2,436.4 L634.1,436.6 L634.0,436.8 L633.8,437.0 L633.7,437.2 L633.6,437.4 L633.5,437.6 L633.4,437.8 L633.4,438.1 L633.3,438.3 L633.2,438.5 L633.2,438.8 L633.1,439.0 L633.1,439.2 L633.0,439.5 L633.0,439.7 L633.0,439.9 L633.0,440.2 L632.9,440.4 L632.9,440.6 L633.0,440.9 L633.0,441.1 L633.0,441.4 L633.0,441.6 L633.1,441.8 L633.1,442.1 L633.2,442.3 L633.2,442.5 L633.3,442.8 L633.4,443.0 L633.5,443.2 L633.6,443.4 L633.7,443.6 L633.8,443.9 L633.9,444.1 L634.0,444.3 L634.1,444.5 L634.3,444.7 L634.4,444.9 L634.6,445.1 L634.7,445.2 L634.9,445.4 L635.0,445.6 L635.2,445.8 L635.4,445.9 L635.6,446.1 L635.7,446.2 L635.9,446.4 L636.1,446.5 L636.3,446.6 L636.5,446.8 L636.7,446.9 L636.9,447.0 L637.2,447.1 L637.4,447.2 L637.6,447.3 L637.8,447.4 L638.1,447.4 L638.3,447.5 L638.5,447.6 L638.7,447.6 L639.0,447.7 L639.2,447.7 L639.5,447.7 L639.7,447.8 L639.9,447.8 L640.2,447.8 L640.4,447.8 L640.6,447.8 L640.9,447.8 L641.1,447.7 L641.4,447.7 L641.6,447.7 L641.8,447.6 L642.1,447.6 L642.3,447.5 L642.5,447.4 L642.7,447.3 L643.0,447.3 L643.2,447.2 L643.4,447.1 L643.6,447.0 L643.8,446.8 L644.0,446.7 L644.2,446.6 L644.4,446.5 L644.6,446.3 L644.8,446.2 L645.0,446.0 L645.2,445.9 L645.4,445.7 L645.5,445.5 L645.7,445.4 L645.8,445.2 L646.0,445.0 L646.1,444.8 L646.3,444.6 L646.4,444.4 L646.5,444.2 L646.6,444.0 L646.8,443.8 L646.9,443.6 L647.0,443.4 L647.1,443.1 L647.1,442.9 L647.2,442.7 L647.3,442.5 L647.3,442.2 L647.4,442.0 Z M911.1,488.2 L911.1,487.9 L911.2,487.5 L911.2,487.1 L911.2,486.8 L911.2,486.4 L911.2,486.0 L911.2,485.7 L911.2,485.3 L911.2,484.9 L911.1,484.6 L911.0,484.2 L911.0,483.8 L910.9,483.5 L910.8,483.1 L910.7,482.8 L910.6,482.4 L910.4,482.1 L910.3,481.7 L910.1,481.4 L910.0,481.1 L909.8,480.7 L909.6,480.4 L909.4,480.1 L909.2,479.8 L909.0,479.5 L908.8,479.2 L908.5,478.9 L908.3,478.6 L908.0,478.4 L907.8,478.1 L907.5,477.9 L907.2,477.6 L906.9,477.4 L906.6,477.2 L906.3,477.0 L906.0,476.7 L905.7,476.6 L905.4,476.4 L905.0,476.2 L904.7,476.0 L904.4,475.9 L904.0,475.7 L903.7,475.6 L903.3,475.5 L903.0,475.4 L902.6,475.3 L902.3,475.2 L901.9,475.1 L901.5,475.1 L901.2,475.0 L900.8,475.0 L900.4,475.0 L900.1,475.0 L899.7,475.0 L899.3,475.0 L899.0,475.0 L898.6,475.1 L898.2,475.1 L897.9,475.2 L897.5,475.2 L897.1,475.3 L896.8,475.4 L896.4,475.5 L896.1,475.7 L895.7,475.8 L895.4,475.9 L895.1,476.1 L894.7,476.3 L894.4,476.4 L894.1,476.6 L893.8,476.8 L893.5,477.0 L893.2,477.2 L892.9,477.5 L892.6,477.7 L892.3,477.9 L892.0,478.2 L891.8,478.5 L891.5,478.7 L891.3,479.0 L891.1,479.3 L890.8,479.6 L890.6,479.9 L890.4,480.2 L890.2,480.5 L890.0,480.8 L889.9,481.2 L889.7,481.5 L889.5,481.8 L889.4,482.2 L889.3,482.5 L889.2,482.9 L889.1,483.2 L889.0,483.6 L888.9,484.0 L888.8,484.3 L888.8,484.7 L888.7,485.0 L888.7,485.4 L888.7,485.8 L888.6,486.2 L888.6,486.5 L888.7,486.9 L888.7,487.3 L888.7,487.6 L888.8,488.0 L888.8,488.4 L888.9,488.7 L889.0,489.1 L889.1,489.4 L889.2,489.8 L889.3,490.1 L889.5,490.5 L889.6,490.8 L889.8,491.2 L889.9,491.5 L890.1,491.8 L890.3,492.1 L890.5,492.5 L890.7,492.8 L890.9,493.1 L891.1,493.4 L891.4,493.6 L891.6,493.9 L891.9,494.2 L892.1,494.4 L892.4,494.7 L892.7,494.9 L893.0,495.2 L893.3,495.4 L893.6,495.6 L893.9,495.8 L894.2,496.0 L894.5,496.2 L894.8,496.4 L895.2,496.5 L895.5,496.7 L895.8,496.8 L896.2,496.9 L896.5,497.1 L896.9,497.2 L897.3,497.3 L897.6,497.3 L898.0,497.4 L898.3,497.5 L898.7,497.5 L899.1,497.5 L899.4,497.6 L899.8,497.6 L900.2,497.6 L900.6,497.6 L900.9,497.5 L901.3,497.5 L901.7,497.4 L902.0,497.4 L902.4,497.3 L902.7,497.2 L903.1,497.1 L903.5,497.0 L903.8,496.9 L904.2,496.8 L904.5,496.6 L904.8,496.5 L905.2,496.3 L905.5,496.1 L905.8,495.9 L906.1,495.7 L906.4,495.5 L906.7,495.3 L907.0,495.1 L907.3,494.9 L907.6,494.6 L907.8,494.4 L908.1,494.1 L908.4,493.8 L908.6,493.5 L908.8,493.3 L909.1,493.0 L909.3,492.7 L909.5,492.3 L909.7,492.0 L909.8,491.7 L910.0,491.4 L910.2,491.1 L910.3,490.7 L910.5,490.4 L910.6,490.0 L910.7,489.7 L910.8,489.3 L910.9,489.0 L911.0,488.6 Z M907.1,487.5 L907.2,487.3 L907.2,487.1 L907.2,486.8 L907.2,486.6 L907.2,486.4 L907.2,486.1 L907.2,485.9 L907.2,485.6 L907.2,485.4 L907.2,485.2 L907.1,484.9 L907.1,484.7 L907.0,484.5 L906.9,484.2 L906.9,484.0 L906.8,483.8 L906.7,483.6 L906.6,483.3 L906.5,483.1 L906.4,482.9 L906.3,482.7 L906.2,482.5 L906.1,482.3 L905.9,482.1 L905.8,481.9 L905.6,481.7 L905.5,481.5 L905.3,481.3 L905.2,481.2 L905.0,481.0 L904.8,480.8 L904.6,480.7 L904.4,480.5 L904.3,480.4 L904.1,480.3 L903.9,480.1 L903.7,480.0 L903.5,479.9 L903.2,479.8 L903.0,479.7 L902.8,479.6 L902.6,479.5 L902.4,479.4 L902.1,479.3 L901.9,479.2 L901.7,479.2 L901.4,479.1 L901.2,479.1 L901.0,479.1 L900.7,479.0 L900.5,479.0 L900.3,479.0 L900.0,479.0 L899.8,479.0 L899.5,479.0 L899.3,479.0 L899.1,479.0 L898.8,479.1 L898.6,479.1 L898.4,479.2 L898.1,479.2 L897.9,479.3 L897.7,479.3 L897.4,479.4 L897.2,479.5 L897.0,479.6 L896.8,479.7 L896.6,479.8 L896.4,479.9 L896.2,480.0 L896.0,480.2 L895.8,480.3 L895.6,480.4 L895.4,480.6 L895.2,480.7 L895.0,480.9 L894.8,481.1 L894.7,481.2 L894.5,481.4 L894.3,481.6 L894.2,481.8 L894.1,482.0 L893.9,482.2 L893.8,482.4 L893.7,482.6 L893.5,482.8 L893.4,483.0 L893.3,483.2 L893.2,483.4 L893.1,483.6 L893.1,483.9 L893.0,484.1 L892.9,484.3 L892.9,484.5 L892.8,484.8 L892.8,485.0 L892.7,485.2 L892.7,485.5 L892.7,485.7 L892.6,486.0 L892.6,486.2 L892.6,486.4 L892.7,486.7 L892.7,486.9 L892.7,487.2 L892.7,487.4 L892.8,487.6 L892.8,487.9 L892.9,488.1 L892.9,488.3 L893.0,488.5 L893.1,488.8 L893.2,489.0 L893.3,489.2 L893.4,489.4 L893.5,489.6 L893.6,489.9 L893.7,490.1 L893.8,490.3 L894.0,490.5 L894.1,490.7 L894.2,490.8 L894.4,491.0 L894.6,491.2 L894.7,491.4 L894.9,491.6 L895.1,491.7 L895.2,491.9 L895.4,492.0 L895.6,492.2 L895.8,492.3 L896.0,492.4 L896.2,492.6 L896.4,492.7 L896.6,492.8 L896.9,492.9 L897.1,493.0 L897.3,493.1 L897.5,493.2 L897.7,493.2 L898.0,493.3 L898.2,493.4 L898.4,493.4 L898.7,493.5 L898.9,493.5 L899.1,493.5 L899.4,493.6 L899.6,493.6 L899.9,493.6 L900.1,493.6 L900.3,493.6 L900.6,493.5 L900.8,493.5 L901.1,493.5 L901.3,493.5 L901.5,493.4 L901.8,493.3 L902.0,493.3 L902.2,493.2 L902.4,493.1 L902.7,493.1 L902.9,493.0 L903.1,492.9 L903.3,492.8 L903.5,492.6 L903.7,492.5 L903.9,492.4 L904.1,492.3 L904.3,492.1 L904.5,492.0 L904.7,491.8 L904.9,491.7 L905.0,491.5 L905.2,491.3 L905.4,491.1 L905.5,491.0 L905.7,490.8 L905.8,490.6 L906.0,490.4 L906.1,490.2 L906.2,490.0 L906.3,489.8 L906.5,489.6 L906.6,489.4 L906.7,489.1 L906.7,488.9 L906.8,488.7 L906.9,488.5 L907.0,488.2 L907.0,488.0 L907.1,487.8 Z M747.1,450.9 L745.7,450.6 L744.4,450.1 L743.4,449.5 L742.5,448.8 L741.8,448.0 L741.2,447.0 L740.7,445.8 L740.3,444.3 L740.0,442.5 L740.0,440.5 L740.1,438.2 L740.5,435.6 L741.0,433.0 L741.7,430.8 L742.4,429.0 L743.2,427.5 L744.0,426.3 L744.9,425.4 L745.8,424.7 L746.7,424.2 L747.6,423.9 L748.8,423.7 L750.2,423.7 L751.8,423.8 L752.8,424.1 L753.7,424.4 L754.5,424.7 L755.2,425.1 L755.8,425.6 L756.4,426.1 L756.9,426.7 L757.4,427.3 L757.7,427.9 L758.0,428.6 L758.2,429.3 L759.2,435.6 L779.8,433.2 L778.4,424.7 L777.6,421.8 L776.5,419.1 L775.2,416.5 L773.5,414.1 L771.6,411.9 L769.3,409.9 L766.9,408.3 L764.2,406.8 L761.3,405.7 L758.3,404.7 L755.0,404.0 L750.6,403.5 L746.2,403.5 L742.1,404.0 L738.1,405.1 L734.4,406.8 L731.1,409.1 L728.1,411.8 L725.5,415.1 L723.3,418.7 L721.6,422.7 L720.2,427.1 L719.1,431.8 L718.5,436.6 L718.3,441.2 L718.7,445.6 L719.5,449.8 L720.9,453.8 L722.8,457.5 L725.2,460.9 L728.1,463.8 L731.5,466.2 L735.2,468.2 L739.3,469.7 L743.7,470.7 L746.8,471.1 L749.8,471.3 L752.8,471.1 L755.7,470.7 L758.5,469.9 L761.2,468.9 L763.8,467.5 L766.3,465.8 L768.6,463.9 L770.7,461.7 L772.6,459.2 L777.2,452.0 L759.6,440.9 L754.9,447.8 L753.5,449.4 L752.1,450.3 L750.7,450.9 L749.2,451.1 Z M746.5,454.9 L744.5,454.4 L742.7,453.7 L741.1,452.8 L739.7,451.7 L738.6,450.4 L737.6,448.8 L736.9,447.1 L736.3,445.1 L736.0,442.9 L736.0,440.4 L736.1,437.8 L736.5,434.9 L737.1,432.1 L737.9,429.5 L738.8,427.3 L739.8,425.4 L740.9,423.8 L742.2,422.4 L743.6,421.3 L745.1,420.5 L746.7,420.0 L748.4,419.7 L750.4,419.7 L752.5,419.9 L753.8,420.2 L755.1,420.6 L756.3,421.1 L757.3,421.7 L758.3,422.5 L759.3,423.3 L760.1,424.2 L760.8,425.2 L761.3,426.2 L761.8,427.3 L762.1,428.4 L762.5,431.2 L775.2,429.7 L774.5,425.6 L773.8,423.1 L772.9,420.7 L771.7,418.6 L770.4,416.6 L768.7,414.7 L766.9,413.1 L764.8,411.7 L762.5,410.5 L760.0,409.4 L757.3,408.6 L754.3,408.0 L750.3,407.5 L746.5,407.5 L742.9,407.9 L739.5,408.9 L736.4,410.3 L733.6,412.2 L731.0,414.6 L728.8,417.4 L726.9,420.6 L725.3,424.1 L724.0,428.1 L723.1,432.5 L722.5,436.9 L722.3,441.1 L722.6,445.1 L723.4,448.8 L724.5,452.2 L726.2,455.4 L728.3,458.3 L730.7,460.7 L733.6,462.8 L736.9,464.5 L740.5,465.8 L744.4,466.8 L747.2,467.1 L749.8,467.2 L752.4,467.1 L754.9,466.7 L757.3,466.1 L759.6,465.2 L761.8,464.1 L763.9,462.7 L765.8,461.0 L767.7,459.1 L769.3,456.9 L771.7,453.2 L760.8,446.3 L758.1,450.3 L756.1,452.4 L754.0,453.9 L751.8,454.8 L749.3,455.1 Z M1004.7,448.3 L993.7,513.5 L1018.6,517.5 L1019.7,501.9 L1028.4,519.9 L1051.6,523.3 L1063.7,458.5 L1038.2,454.5 L1035.3,469.5 L1028.4,452.2 Z M1008.0,452.9 L998.3,510.2 L1014.9,512.9 L1016.8,486.6 L1031.1,516.2 L1048.4,518.8 L1059.0,461.8 L1041.4,459.0 L1036.6,483.7 L1025.5,455.8 Z M1159.6,475.6 L1148.6,540.8 L1173.5,544.8 L1174.6,529.2 L1183.3,547.2 L1206.5,550.6 L1218.6,485.8 L1193.1,481.8 L1190.2,496.8 L1183.3,479.5 Z M1162.9,480.2 L1153.2,537.5 L1169.8,540.2 L1171.7,514.0 L1186.0,543.6 L1203.3,546.1 L1213.9,489.1 L1196.3,486.4 L1191.5,511.0 L1180.4,483.1 Z M1075.9,461.4 L1064.9,525.6 L1107.7,533.2 L1116.4,512.9 L1095.0,509.6 L1101.3,466.0 Z M1079.2,466.1 L1069.5,522.4 L1105.3,528.7 L1110.7,516.1 L1090.5,512.9 L1096.8,469.2 Z M1126.1,470.4 L1115.4,534.6 L1141.4,539.2 L1152.0,475.0 Z M1129.4,475.0 L1120.0,531.4 L1138.1,534.6 L1147.4,478.2 Z M1222.6,554.3 L1264.6,561.7 L1273.7,540.4 L1248.2,535.9 L1248.5,534.2 L1263.8,536.9 L1272.2,518.7 L1251.9,515.1 L1252.8,510.0 L1272.3,513.5 L1282.1,498.0 L1234.0,489.5 Z M1227.3,551.1 L1262.1,557.3 L1268.1,543.5 L1243.6,539.2 L1245.3,529.6 L1261.5,532.5 L1266.4,521.7 L1247.2,518.4 L1249.5,505.4 L1270.4,509.0 L1275.5,500.9 L1237.3,494.2 Z M68.6,300.7 L72.0,301.7 L71.5,319.6 L62.6,318.1 L68.6,300.7 M426.9,363.9 L430.3,364.9 L429.8,382.8 L420.9,381.3 L426.9,363.9 M689.3,410.2 L692.7,411.2 L692.2,429.1 L683.3,427.6 L689.3,410.2 M810.4,431.5 L813.8,432.5 L813.3,450.4 L804.4,448.9 L810.4,431.5"/>
<!-- labels -->
<g class="lab">
<text x="18.5" y="224.3">14188580</text>
<text x="18" y="284.8">10519301</text>
<text x="18" y="345">17670201</text>
<text x="920" y="221.5">21093-8401016-20</text>
<text x="1110" y="387">21093-8401012-20</text>
<text x="1087" y="555.7" text-anchor="end">14195076</text>
<text x="1087" y="587" text-anchor="end">2108-8212060</text>
</g>
<g fill="none" stroke="#000" stroke-width="1.3">
<line x1="1110.5" y1="389.5" x2="1276" y2="389.5"/>
<polyline points="1079.6,193.7 1099,193.7 1097,599.8 1076.6,599.8"/>
<polyline points="119,215.5 348.9,214.3 391.7,236.3"/>
<polyline points="119,277.3 289.9,276.9 296.9,283.5"/>
<polyline points="119.4,337.8 224,338 245,320.5"/>
<polyline points="985.7,549.2 543.2,549.9 519.1,535.7"/>
<polyline points="908.7,213.6 829.8,213.6 758.4,338.8"/>
<polyline stroke-width="1.9" points="946.7,579.5 529,580.1 479.6,546.2"/>
</g>
</svg>
</body></html>
